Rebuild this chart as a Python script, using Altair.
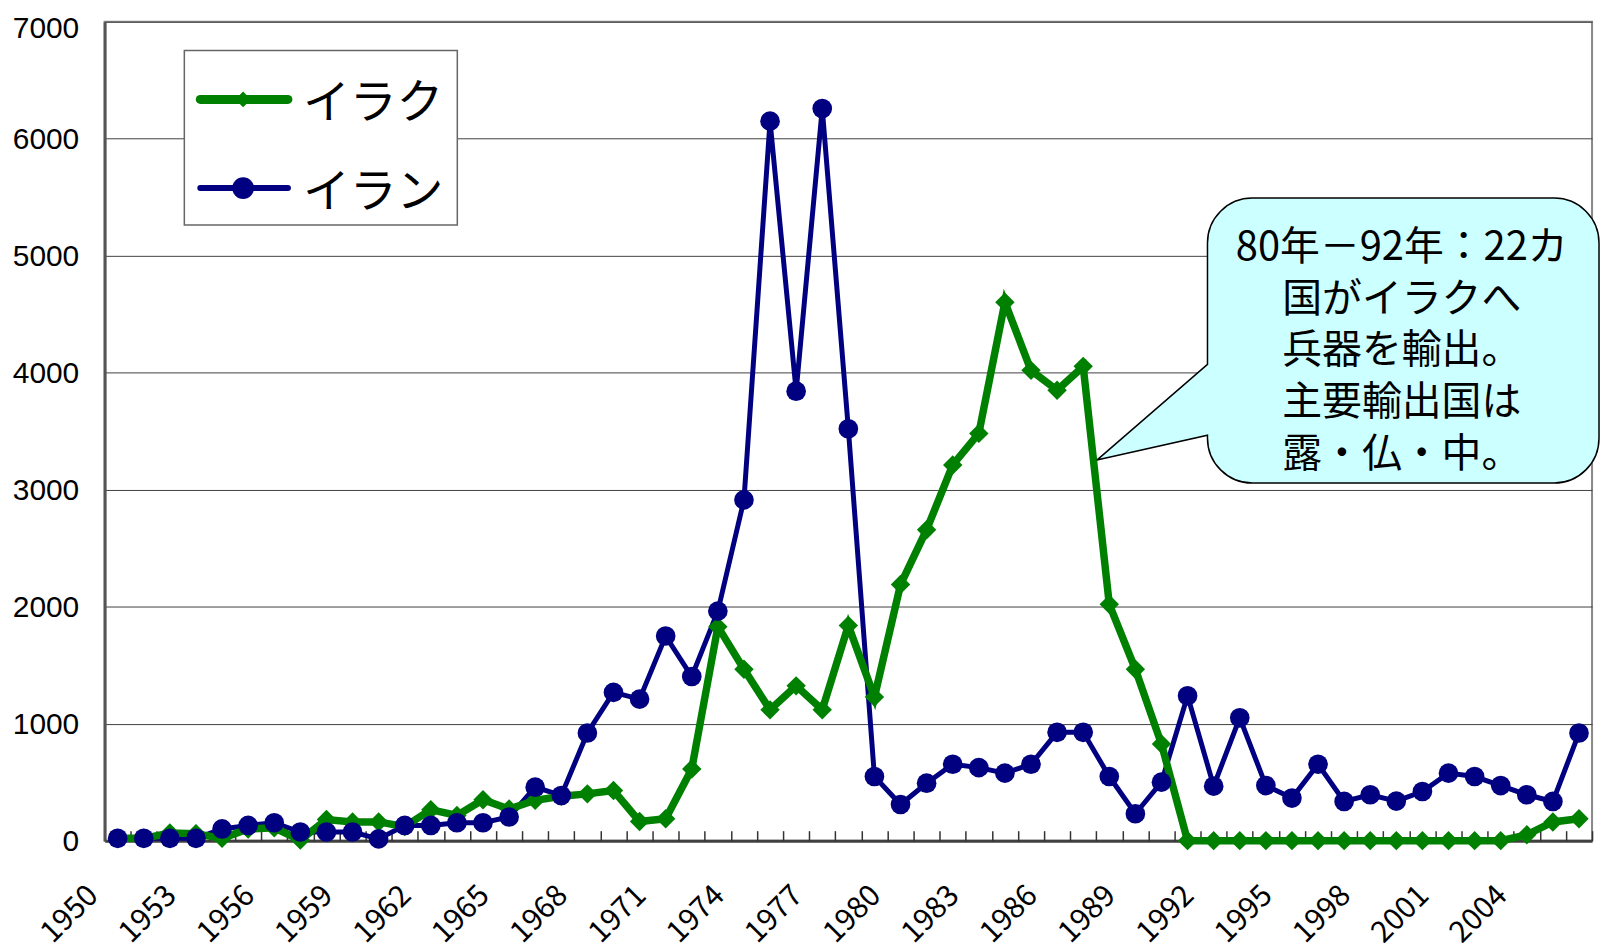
import altair as alt
import pandas as pd

# ---------------- data ----------------
years = list(range(1950, 2007))
iraq = [20, 20, 65, 60, 20, 100, 110, 5, 180, 160, 160, 120, 265, 215, 350, 270,
        345, 380, 400, 428, 164, 187, 613, 1829, 1465, 1118, 1323, 1118, 1840, 1227,
        2189, 2658, 3211, 3481, 4602, 4020, 3850, 4054, 2020, 1465, 826,
        0, 0, 0, 0, 0, 0, 0, 0, 0, 0, 0, 0, 0, 50, 160, 187]
iran = [20, 20, 20, 20, 100, 130, 153, 74, 74, 74, 15, 130, 130, 153, 153, 202,
        457, 386, 920, 1267, 1210, 1749, 1403, 1962, 2913, 6150, 3842, 6258, 3521, 548,
        309, 491, 653, 624, 577, 653, 926, 926, 548, 230, 500, 1238, 466, 1050, 471,
        364, 653, 335, 392, 338, 420, 577, 548, 471, 392, 335, 920]
series_names = ["イラク", "イラン"]
series_colors = ["#008000", "#000080"]
y_ticks = [0, 1000, 2000, 3000, 4000, 5000, 6000, 7000]
callout_text = "80年－92年：22カ\n国がイラクへ\n兵器を輸出。\n主要輸出国は\n露・仏・中。"

df = pd.DataFrame({
    "year": years + years,
    "value": iraq + iran,
    "series": [series_names[0]] * len(years) + [series_names[1]] * len(years),
})

FONT = "Noto Sans CJK JP"
NUM_FONT = "Liberation Sans"
W, H = 1493, 822

x_enc = alt.X(
    "year:O",
    scale=alt.Scale(type="band", paddingInner=0, paddingOuter=0),
    bandPosition=0.5,
    axis=alt.Axis(
        title=None, domain=False, grid=False, ticks=True, tickBand="extent",
        tickSize=10, tickColor="#333333", tickWidth=1.5, offset=-10,
        labelExpr="(datum.value - 1950) % 3 == 0 ? datum.label : ''",
        labelAngle=-45, labelAlign="right", labelBaseline="middle",
        labelFontSize=30, labelFont=FONT, labelColor="black",
        labelPadding=50, labelOffset=-25, labelOverlap=False,
    ),
)
y_enc = alt.Y(
    "value:Q",
    scale=alt.Scale(domain=[0, 7000], nice=False),
    axis=alt.Axis(
        title=None, values=y_ticks, format="d", grid=True, gridColor="#404040",
        gridWidth={"condition": {"test": "datum.value === 0", "value": 3}, "value": 1},
        domain=True, domainColor="#555555", domainWidth=3, ticks=False, tickSize=0,
        labelFontSize=30, labelFont=NUM_FONT, labelColor="black", labelPadding=26,
        labelOffset={"condition": {"test": "datum.value === 7000", "value": 7}, "value": 1},
    ),
)

base = alt.Chart(df).encode(x=x_enc, y=y_enc)
f_iraq = alt.datum.series == series_names[0]
f_iran = alt.datum.series == series_names[1]

blue_line = base.transform_filter(f_iran).mark_line(color=series_colors[1], strokeWidth=5)
green_line = base.transform_filter(f_iraq).mark_line(color=series_colors[0], strokeWidth=7.5)
green_pts = base.transform_filter(f_iraq).mark_point(
    shape="diamond", filled=True, size=380, color=series_colors[0], opacity=1)
blue_pts = base.transform_filter(f_iran).mark_circle(
    size=390, color=series_colors[1], opacity=1)

layers = [blue_line, green_line, green_pts, blue_pts]

# ---------------- legend (drawn inside the plot) ----------------
layers.append(
    alt.Chart(pd.DataFrame({"k": [0]})).mark_rect(
        fill="white", stroke="#666666", strokeWidth=1.5
    ).encode(x=alt.value(80), x2=alt.value(354), y=alt.value(29), y2=alt.value(204))
)
entry_y = [78, 167]
line_w = [9, 6]
marker_shape = ["diamond", "circle"]
marker_size = [250, 480]
for i, name in enumerate(series_names):
    edf = pd.DataFrame({"series": [name]})
    layers.append(
        alt.Chart(edf).mark_rule(color=series_colors[i], strokeWidth=line_w[i], strokeCap="round")
        .encode(x=alt.value(96), x2=alt.value(184), y=alt.value(entry_y[i]))
    )
    layers.append(
        alt.Chart(edf).mark_point(shape=marker_shape[i], filled=True, opacity=1,
                                  size=marker_size[i], color=series_colors[i])
        .encode(x=alt.value(139), y=alt.value(entry_y[i]))
    )
    layers.append(
        alt.Chart(edf).mark_text(align="left", baseline="middle", fontSize=47,
                                 font=FONT, color="black")
        .encode(x=alt.value(199), y=alt.value(entry_y[i] + 5), text="series:N")
    )

# ---------------- callout ----------------
callout_path = ("M-151.5,-143 L151.5,-143 A45,45 0 0 1 196.5,-98 L196.5,98 "
                "A45,45 0 0 1 151.5,143 L-151.5,143 A45,45 0 0 1 -196.5,98 "
                "L-196.5,95 L-307.5,120 L-196.5,24 L-196.5,-98 "
                "A45,45 0 0 1 -151.5,-143 Z")
cdf = pd.DataFrame({"t": [callout_text]})
layers.append(
    alt.Chart(cdf).mark_point(shape=callout_path, size=4, filled=True, fill="#CCFFFF",
                              stroke="#000000", strokeWidth=1.5, opacity=1)
    .encode(x=alt.value(1303.5), y=alt.value(320))
)
layers.append(
    alt.Chart(cdf).mark_text(lineBreak="\n", fontSize=40, lineHeight=52, font=FONT,
                             align="center", baseline="middle", color="black")
    .encode(x=alt.value(1302), y=alt.value(227), text="t:N")
)

chart = alt.layer(*layers).properties(
    width=W, height=H,
    autosize=alt.AutoSizeParams(type="none"),
    padding={"left": 97, "top": 12, "right": 10, "bottom": 110},
    background="white",
).configure_view(stroke="#888888", strokeWidth=2)

chart.save("out.html", embed_options={"renderer": "svg", "actions": False})
